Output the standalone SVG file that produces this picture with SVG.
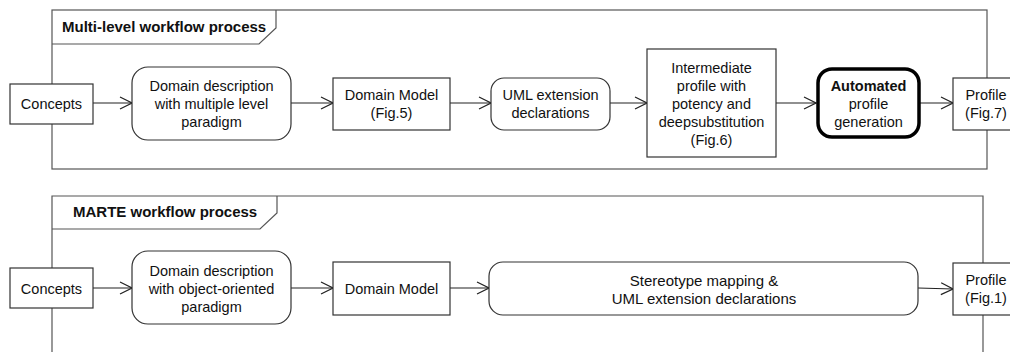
<svg xmlns="http://www.w3.org/2000/svg" width="1010" height="352" viewBox="0 0 1010 352">
<defs>
<style>
.frame{fill:none;stroke:#555;stroke-width:1.2}
.box{fill:#fff;stroke:#333;stroke-width:1.2}
.bold{fill:#fff;stroke:#000;stroke-width:3.5}
.t{font-family:"Liberation Sans",Arial,sans-serif;font-size:14.5px;fill:#111;text-anchor:middle;dominant-baseline:central}
.tb{font-weight:bold}
.title{font-family:"Liberation Sans",Arial,sans-serif;font-size:15px;font-weight:bold;fill:#111}
.conn{fill:none;stroke:#222;stroke-width:1.2}
</style>
<marker id="open" viewBox="0 0 14 14" refX="13" refY="7" markerWidth="14" markerHeight="14" markerUnits="userSpaceOnUse" orient="auto">
<path d="M1,1 L13,7 L1,13" fill="none" stroke="#222" stroke-width="1.2"/>
</marker>
</defs>
<rect width="1010" height="352" fill="#fff"/>

<g id="frame-multilevel">
<rect class="frame" x="52" y="10" width="935" height="159"/>
<path class="frame" d="M52,44 L259,44 L276,28 L276,10"/>
<text class="title" x="62" y="32">Multi-level workflow process</text>
</g>
<g id="frame-marte">
<path class="frame" d="M52,352 L52,196 L983,196 L983,352"/>
<path class="frame" d="M52,229 L260,229 L277,213 L277,196"/>
<text class="title" x="73" y="217">MARTE workflow process</text>
</g>

<g id="connectors">
<line class="conn" x1="93" y1="103" x2="132" y2="103" marker-end="url(#open)"/>
<line class="conn" x1="291" y1="103" x2="333" y2="103" marker-end="url(#open)"/>
<line class="conn" x1="450" y1="103" x2="491" y2="103" marker-end="url(#open)"/>
<line class="conn" x1="610" y1="103" x2="647" y2="103" marker-end="url(#open)"/>
<line class="conn" x1="776" y1="103" x2="816" y2="103" marker-end="url(#open)"/>
<line class="conn" x1="920" y1="103" x2="953" y2="103" marker-end="url(#open)"/>
<line class="conn" x1="93" y1="288" x2="132" y2="288" marker-end="url(#open)"/>
<line class="conn" x1="291" y1="288" x2="333" y2="288" marker-end="url(#open)"/>
<line class="conn" x1="450" y1="288" x2="489" y2="288" marker-end="url(#open)"/>
<line class="conn" x1="918" y1="288" x2="953" y2="289" marker-end="url(#open)"/>
</g>

<g id="concepts1">
<rect class="box" x="10" y="84" width="83" height="40"/>
<text class="t" x="51.5" y="104">Concepts</text>
</g>
<g id="domaindesc1">
<rect class="box" x="132" y="67" width="159" height="73" rx="16"/>
<text class="t" x="211.5" y="86">Domain description</text>
<text class="t" x="211.5" y="104">with multiple level</text>
<text class="t" x="211.5" y="122">paradigm</text>
</g>
<g id="domainmodel1">
<rect class="box" x="333" y="78" width="117" height="52"/>
<text class="t" x="391.5" y="95">Domain Model</text>
<text class="t" x="391.5" y="113">(Fig.5)</text>
</g>
<g id="umlext1">
<rect class="box" x="491" y="78" width="119" height="52" rx="13"/>
<text class="t" x="550.5" y="95">UML extension</text>
<text class="t" x="550.5" y="113">declarations</text>
</g>
<g id="intermediate1">
<rect class="box" x="647" y="49" width="129" height="108"/>
<text class="t" x="711.5" y="68">Intermediate</text>
<text class="t" x="711.5" y="86">profile with</text>
<text class="t" x="711.5" y="104">potency and</text>
<text class="t" x="711.5" y="122">deepsubstitution</text>
<text class="t" x="711.5" y="140">(Fig.6)</text>
</g>
<g id="automated1">
<rect class="bold" x="818" y="69" width="101" height="68" rx="14"/>
<text class="t tb" x="868.5" y="86">Automated</text>
<text class="t" x="868.5" y="104">profile</text>
<text class="t" x="868.5" y="122">generation</text>
</g>
<g id="profile1">
<rect class="box" x="953" y="78" width="70" height="52"/>
<text class="t" x="986" y="95">Profile</text>
<text class="t" x="986" y="113">(Fig.7)</text>
</g>

<g id="concepts2">
<rect class="box" x="10" y="268" width="83" height="40"/>
<text class="t" x="51.5" y="289">Concepts</text>
</g>
<g id="domaindesc2">
<rect class="box" x="132" y="251" width="159" height="73" rx="16"/>
<text class="t" x="211.5" y="271">Domain description</text>
<text class="t" x="211.5" y="289">with object-oriented</text>
<text class="t" x="211.5" y="307">paradigm</text>
</g>
<g id="domainmodel2">
<rect class="box" x="333" y="262" width="117" height="53"/>
<text class="t" x="391.5" y="289">Domain Model</text>
</g>
<g id="stereotype2">
<rect class="box" x="489" y="262" width="429" height="53" rx="14"/>
<text class="t" x="704" y="280" style="font-size:15px">Stereotype mapping &amp;</text>
<text class="t" x="704" y="298" style="font-size:15px">UML extension declarations</text>
</g>
<g id="profile2">
<rect class="box" x="953" y="263" width="70" height="52"/>
<text class="t" x="986" y="280">Profile</text>
<text class="t" x="986" y="298">(Fig.1)</text>
</g>
</svg>
